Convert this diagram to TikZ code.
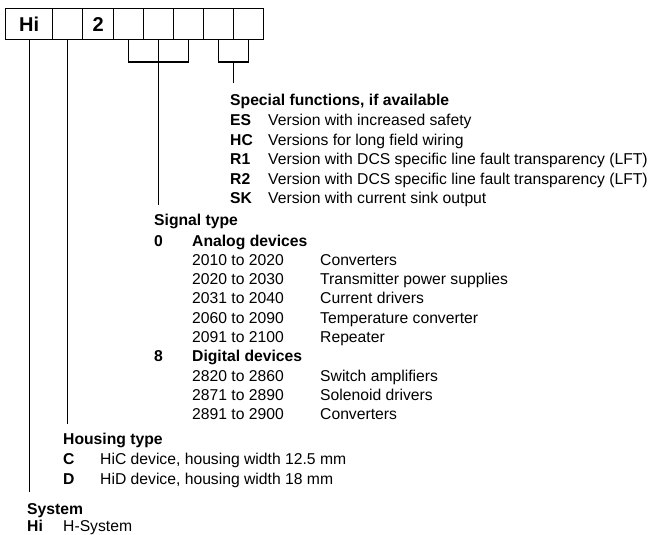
\documentclass[tikz,border=0pt]{standalone}
\usepackage{fontspec}
\setmainfont{Liberation Sans}
\usetikzlibrary{calc}
\begin{document}
\begin{tikzpicture}[x=1pt,y=-1pt,
  cell/.style={draw, line width=1.3pt, minimum height=31pt, inner sep=0pt, anchor=north west, font=\fontsize{20}{22}\selectfont\bfseries},
  txt/.style={anchor=base west, inner sep=0pt, font=\fontsize{15.7}{18}\selectfont},
  hd/.style={anchor=base west, inner sep=0pt, font=\fontsize{15.7}{18}\selectfont\bfseries},
  conn/.style={line width=1.3pt}]
\useasboundingbox (0,0) rectangle (649,535);
% code boxes
\node[cell, minimum width=47pt] (b1) at (5,8) {Hi};
\node[cell, minimum width=30pt] (b2) at (52,8) {};
\node[cell, minimum width=31pt] (b3) at (82,8) {2};
\node[cell, minimum width=30pt] (b4) at (113,8) {};
\node[cell, minimum width=30pt] (b5) at (143,8) {};
\node[cell, minimum width=30pt] (b6) at (173,8) {};
\node[cell, minimum width=30pt] (b7) at (203,8) {};
\node[cell, minimum width=30pt] (b8) at (233,8) {};
% special functions
\node[hd] (sfh) at (230,105.5) {Special functions, if available};
\node[hd] (sf1) at (230,126) {ES};  \node[txt] (sf1d) at (268,126) {Version with increased safety};
\node[hd] (sf2) at (230,145.3) {HC};  \node[txt] (sf2d) at (268,145.3) {Versions for long field wiring};
\node[hd] (sf3) at (230,164.8) {R1};    \node[txt] (sf3d) at (268,164.8) {Version with DCS specific line fault transparency (LFT)};
\node[hd] (sf4) at (230,184.2) {R2};  \node[txt] (sf4d) at (268,184.2) {Version with DCS specific line fault transparency (LFT)};
\node[hd] (sf5) at (230,203.5) {SK};  \node[txt] (sf5d) at (268,203.5) {Version with current sink output};
% signal type
\node[hd] (sth) at (154,225.7) {Signal type};
\node[hd] (st0) at (154,246) {0};  \node[hd] (st0d) at (192,246) {Analog devices};
\node[txt] (a1) at (192,265.3) {2010 to 2020}; \node[txt] (a1d) at (320,265.3) {Converters};
\node[txt] (a2) at (192,284.6) {2020 to 2030}; \node[txt] (a2d) at (320,284.6) {Transmitter power supplies};
\node[txt] (a3) at (192,303.9) {2031 to 2040}; \node[txt] (a3d) at (320,303.9) {Current drivers};
\node[txt] (a4) at (192,323.2) {2060 to 2090}; \node[txt] (a4d) at (320,323.2) {Temperature converter};
\node[txt] (a5) at (192,342.5) {2091 to 2100};   \node[txt] (a5d) at (320,342.5) {Repeater};
\node[hd] (st8) at (154,361.8) {8};  \node[hd] (st8d) at (192,361.8) {Digital devices};
\node[txt] (d1) at (192,381.1) {2820 to 2860}; \node[txt] (d1d) at (320,381.1) {Switch amplifiers};
\node[txt] (d2) at (192,400.4) {2871 to 2890}; \node[txt] (d2d) at (320,400.4) {Solenoid drivers};
\node[txt] (d3) at (192,419.7) {2891 to 2900}; \node[txt] (d3d) at (320,419.7) {Converters};
% housing type
\node[hd] (hth) at (63,444.5) {Housing type};
\node[hd] (ht1) at (63,464.3) {C}; \node[txt] (ht1d) at (100,464.3) {HiC device, housing width 12.5 mm};
\node[hd] (ht2) at (63,484) {D}; \node[txt] (ht2d) at (100,484) {HiD device, housing width 18 mm};
% system
\node[hd] (syh) at (27,514) {System};
\node[hd] (sy1) at (27,531) {Hi}; \node[txt] (sy1d) at (63,531) {H-System};
% connector end points
\coordinate (sysend) at (b1.south |- 0,492);
\coordinate (houend) at (b2.south |- 0,424);
\coordinate (sigend) at (b5.south |- 0,205);
\coordinate (br1L) at (b4.south |- 0,62);
\coordinate (br1R) at (b6.south |- 0,62);
\coordinate (br2L) at (b7.south |- 0,62);
\coordinate (br2R) at (b8.south |- 0,62);
\coordinate (br2M) at ($(br2L)!0.5!(br2R)$);
\coordinate (spcend) at (br2M |- 0,83);
% connectors
\draw[conn] (b1.south) -- (sysend);
\draw[conn] (b2.south) -- (houend);
\draw[conn] (b5.south) -- (sigend);
\draw[conn] (b4.south) -- (br1L) -- (br1R) -- (b6.south);
\draw[conn] (b7.south) -- (br2L) -- (br2R) -- (b8.south);
\draw[conn] (br2M) -- (spcend);
\end{tikzpicture}
\end{document}
